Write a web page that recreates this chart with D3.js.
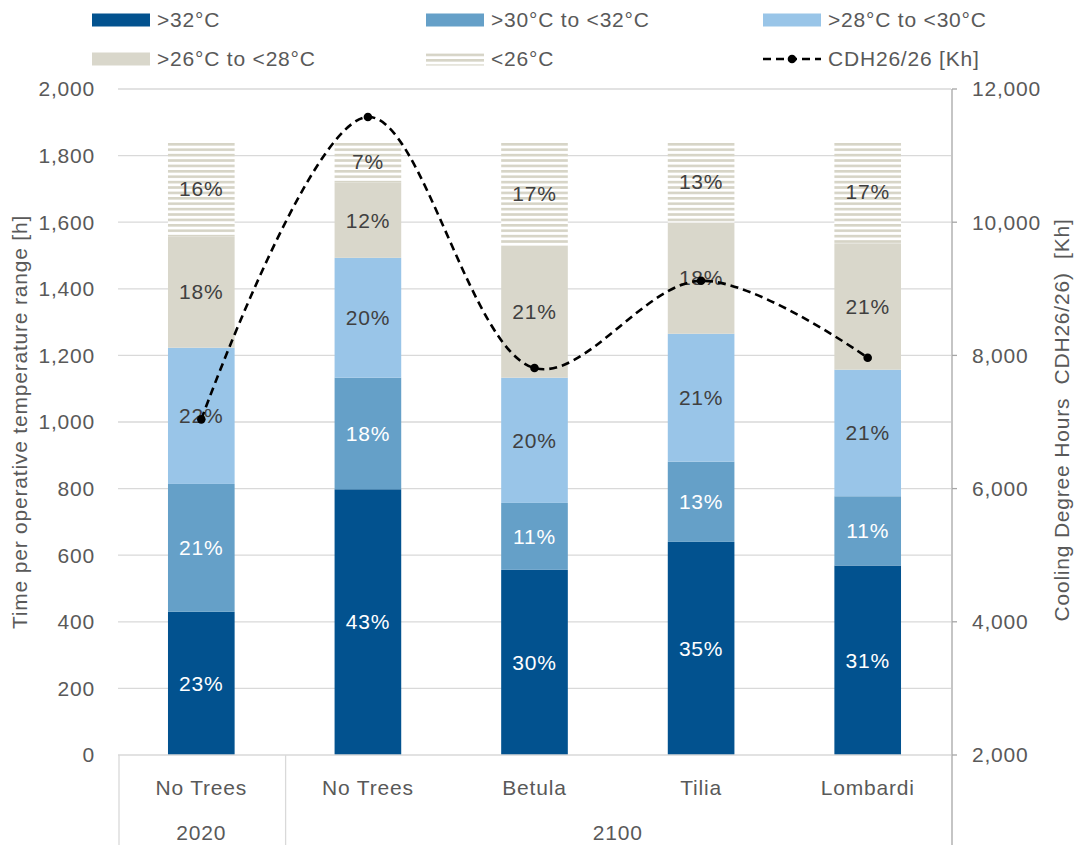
<!DOCTYPE html>
<html>
<head>
<meta charset="utf-8">
<script src="https://cdn.jsdelivr.net/npm/d3@7"></script>
<style>
  body { margin: 0; background: #fff; }
  text { font-family: "Liberation Sans", Arial, sans-serif; letter-spacing: 0.8px; }
</style>
</head>
<body>
<script>
// categories (two-level axis)
var categories = ["No Trees", "No Trees", "Betula", "Tilia", "Lombardi"];
var groups = [{label: "2020", from: 0, to: 1}, {label: "2100", from: 1, to: 5}];

// hours per operative temperature range
var seriesNames = [">32°C", ">30°C to <32°C", ">28°C to <30°C", ">26°C to <28°C", "<26°C"];
var over32 = [430, 798, 556, 640, 569];
var from30to32 = [384, 335, 201, 241, 208];
var from28to30 = [409, 360, 376, 384, 380];
var from26to28 = [334, 226, 396, 334, 380];
var under26 = [287, 125, 315, 245, 307];

// cooling degree hours, right axis
var cdhName = "CDH26/26 [Kh]";
var cdh = [7040, 11580, 7810, 9120, 7965];

var leftTicks = [0, 200, 400, 600, 800, 1000, 1200, 1400, 1600, 1800, 2000];
var rightTicks = [2000, 4000, 6000, 8000, 10000, 12000];

var width = 1074, height = 845;
var margins = {top: 89, bottom: 90, left: 118, right: 123};
var graph = {
    width: width - margins.left - margins.right,
    height: height - margins.top - margins.bottom
};

var colors = ["#02528f", "#65a0c8", "#99c5e8", "#d9d7cb", "url(#stripes)"];
var labelColors = ["#ffffff", "#ffffff", "#404040", "#404040", "#404040"];
var fontSize = "21px";

var svg = d3.select("body").append("svg")
    .attr("width", width)
    .attr("height", height);

var defs = svg.append("defs");
var pat = defs.append("pattern")
    .attr("id", "stripes")
    .attr("patternUnits", "userSpaceOnUse")
    .attr("width", 10).attr("height", 5.4);
pat.append("rect").attr("width", 10).attr("height", 5.4).attr("fill", "#ffffff");
pat.append("rect").attr("width", 10).attr("height", 2.6).attr("fill", "#d6d4c6");

var g = svg.append("g")
    .attr("transform", "translate(" + margins.left + "," + margins.top + ")");

var x = d3.scaleBand()
    .domain(d3.range(categories.length))
    .range([0, graph.width])
    .paddingInner(0.6)
    .paddingOuter(0.3);
var yL = d3.scaleLinear().domain([0, 2000]).range([graph.height, 0]);
var yR = d3.scaleLinear().domain([2000, 12000]).range([graph.height, 0]);

// gridlines
g.selectAll(".grid")
    .data(leftTicks.slice(1))
    .enter().append("line")
    .attr("x1", 0).attr("x2", graph.width)
    .attr("y1", function(d){ return yL(d); })
    .attr("y2", function(d){ return yL(d); })
    .attr("stroke", "#d9d9d9").attr("stroke-width", 1.3);

// left tick labels
g.selectAll(".ltick")
    .data(leftTicks)
    .enter().append("text")
    .attr("x", -23)
    .attr("y", function(d){ return yL(d); })
    .attr("dy", "0.35em")
    .attr("text-anchor", "end")
    .attr("fill", "#595959")
    .style("font-size", fontSize)
    .text(function(d){ return d3.format(",")(d); });

// stacked bars
var table = categories.map(function(c, i) {
    return {i: i, s0: over32[i], s1: from30to32[i], s2: from28to30[i], s3: from26to28[i], s4: under26[i]};
});
var keys = ["s0", "s1", "s2", "s3", "s4"];
var stacked = d3.stack().keys(keys)(table);

var layers = g.selectAll(".layer")
    .data(stacked)
    .enter().append("g")
    .attr("class", "layer");

layers.each(function(layer, li) {
    var grp = d3.select(this);
    grp.selectAll("rect")
        .data(layer)
        .enter().append("rect")
        .attr("x", function(d){ return x(d.data.i); })
        .attr("width", x.bandwidth())
        .attr("y", function(d){ return yL(d[1]); })
        .attr("height", function(d){ return yL(d[0]) - yL(d[1]); })
        .attr("fill", colors[li]);
    grp.selectAll("text")
        .data(layer)
        .enter().append("text")
        .attr("x", function(d){ return x(d.data.i) + x.bandwidth() / 2; })
        .attr("y", function(d){ return yL((d[0] + d[1]) / 2); })
        .attr("dy", "0.35em")
        .attr("text-anchor", "middle")
        .attr("fill", labelColors[li])
        .style("font-size", fontSize)
        .text(function(d){
            var total = d3.sum(keys, function(k){ return d.data[k]; });
            return Math.round((d[1] - d[0]) / total * 100) + "%";
        });
});

// CDH line
var line = d3.line()
    .x(function(d, i){ return x(i) + x.bandwidth() / 2; })
    .y(function(d){ return yR(d); })
    .curve(d3.curveCatmullRom.alpha(0.5));

g.append("path")
    .datum(cdh)
    .attr("d", line)
    .attr("fill", "none")
    .attr("stroke", "#000")
    .attr("stroke-width", 2.6)
    .attr("stroke-dasharray", "8,5");

g.selectAll(".pt")
    .data(cdh)
    .enter().append("circle")
    .attr("cx", function(d, i){ return x(i) + x.bandwidth() / 2; })
    .attr("cy", function(d){ return yR(d); })
    .attr("r", 4.3)
    .attr("fill", "#000");

// bottom axis with category groups
var axisColor = "#d9d9d9";
g.append("line")
    .attr("x1", 0).attr("x2", graph.width)
    .attr("y1", graph.height).attr("y2", graph.height)
    .attr("stroke", axisColor).attr("stroke-width", 1.3);

var step = x.step();
g.selectAll(".sep")
    .data([0, 1])
    .enter().append("line")
    .attr("x1", function(d){ return d * step + 1; })
    .attr("x2", function(d){ return d * step + 1; })
    .attr("y1", graph.height).attr("y2", height - margins.top)
    .attr("stroke", axisColor).attr("stroke-width", 1.3);

g.selectAll(".cat")
    .data(categories)
    .enter().append("text")
    .attr("x", function(d, i){ return x(i) + x.bandwidth() / 2; })
    .attr("y", graph.height + 33)
    .attr("dy", "0.35em")
    .attr("text-anchor", "middle")
    .attr("fill", "#595959")
    .style("font-size", fontSize)
    .text(function(d){ return d; });

g.selectAll(".grp")
    .data(groups)
    .enter().append("text")
    .attr("x", function(d){ return (d.from + d.to) / 2 * step; })
    .attr("y", graph.height + 78)
    .attr("dy", "0.35em")
    .attr("text-anchor", "middle")
    .attr("fill", "#595959")
    .style("font-size", fontSize)
    .text(function(d){ return d.label; });

// right axis
var rAxis = g.append("g").attr("transform", "translate(" + (graph.width + 1) + ",0)");
rAxis.append("line")
    .attr("x1", 0).attr("x2", 0)
    .attr("y1", 0).attr("y2", height - margins.top)
    .attr("stroke", "#a6a6a6").attr("stroke-width", 1.3);
rAxis.selectAll(".rt")
    .data(rightTicks)
    .enter().append("line")
    .attr("x1", 0).attr("x2", 5)
    .attr("y1", function(d){ return yR(d); })
    .attr("y2", function(d){ return yR(d); })
    .attr("stroke", "#a6a6a6").attr("stroke-width", 1.3);
rAxis.selectAll(".rl")
    .data(rightTicks)
    .enter().append("text")
    .attr("x", 20)
    .attr("y", function(d){ return yR(d); })
    .attr("dy", "0.35em")
    .attr("fill", "#595959")
    .style("font-size", fontSize)
    .text(function(d){ return d3.format(",")(d); });

// axis titles
svg.append("text")
    .attr("transform", "translate(27," + (margins.top + graph.height / 2) + ") rotate(-90)")
    .attr("text-anchor", "middle")
    .attr("fill", "#595959")
    .style("font-size", fontSize)
    .text("Time per operative temperature range [h]");

svg.append("text")
    .attr("transform", "translate(1069," + (margins.top + graph.height / 2 - 2) + ") rotate(-90)")
    .attr("text-anchor", "middle")
    .attr("fill", "#595959")
    .style("font-size", fontSize)
    .style("white-space", "pre")
    .text("Cooling Degree Hours  CDH26/26)  [Kh]");

// legend
var legendItems = seriesNames.map(function(n, i){ return {name: n, fill: colors[i], type: "rect"}; });
legendItems.push({name: cdhName, type: "line"});
var legCols = [92, 426, 763];
var legRows = [20, 59];

var leg = svg.selectAll(".leg")
    .data(legendItems)
    .enter().append("g")
    .attr("transform", function(d, i){
        return "translate(" + legCols[i % 3] + "," + legRows[Math.floor(i / 3)] + ")";
    });

leg.filter(function(d){ return d.type === "rect"; })
    .append("rect")
    .attr("x", 0).attr("y", -6.5)
    .attr("width", 58).attr("height", 13)
    .attr("fill", function(d){ return d.fill; });

var ll = leg.filter(function(d){ return d.type === "line"; });
ll.append("line")
    .attr("x1", 0).attr("x2", 58).attr("y1", 0).attr("y2", 0)
    .attr("stroke", "#000").attr("stroke-width", 2.6)
    .attr("stroke-dasharray", "8,5");
ll.append("circle").attr("cx", 29).attr("cy", 0).attr("r", 4.3).attr("fill", "#000");

leg.append("text")
    .attr("x", 65)
    .attr("y", 0)
    .attr("dy", "0.35em")
    .attr("fill", "#595959")
    .style("font-size", fontSize)
    .text(function(d){ return d.name; });
</script>
</body>
</html>
